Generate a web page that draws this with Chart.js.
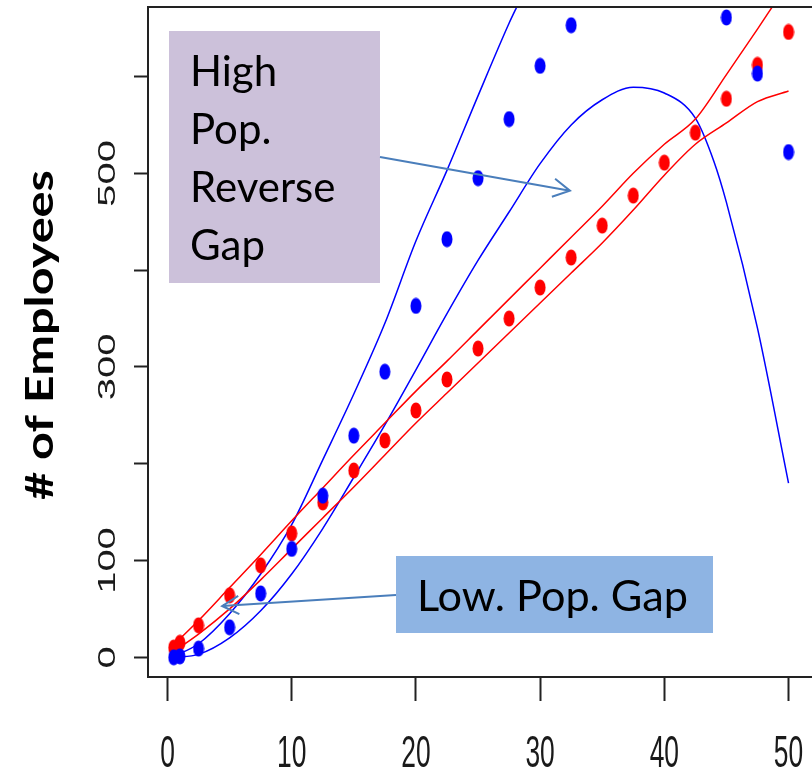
<!DOCTYPE html>
<html>
<head>
<meta charset="utf-8">
<script src="https://cdn.jsdelivr.net/npm/chart.js@4.4.0/dist/chart.umd.min.js"></script>
<style>
  body { margin: 0; background: #fff; }
</style>
</head>
<body>
<canvas id="emp" width="812" height="771"></canvas>
<script>
// observed counts (red = low pop., blue = high pop.)
var redX = [0.5, 1, 2.5, 5, 7.5, 10, 12.5, 15, 17.5, 20, 22.5, 25, 27.5, 30, 32.5, 35, 37.5, 40, 42.5, 45, 47.5, 50];
var redY = [10, 15, 33, 64, 95, 128, 160, 193, 224, 255, 287, 319, 350, 382, 413, 446, 477, 511, 542, 577, 612, 646];
var blueX = [0.5, 1, 2.5, 5, 7.5, 10, 12.5, 15, 17.5, 20, 22.5, 25, 27.5, 30, 32.5, 45, 47.5, 50];
var blueY = [0, 1, 9, 31, 66, 112, 167, 229, 295, 363, 432, 495, 556, 611, 653, 661, 603, 522];

// fitted band edges
var redHiX = [0.5, 2.5, 5, 7.5, 10, 12.5, 15, 17.5, 20, 22.5, 25, 27.5, 30, 32.5, 35, 37.5, 40, 42.5, 45, 47.5, 48.8];
var redHiY = [13, 38, 72, 106, 141, 175, 209, 242, 275, 306, 338, 370, 402, 434, 466, 500, 530, 556, 602, 649, 674];
var redLoX = [0.5, 2.5, 5, 7.5, 10, 12.5, 15, 17.5, 20, 22.5, 25, 27.5, 30, 32.5, 35, 37.5, 40, 42.5, 45, 47.5, 50];
var redLoY = [6, 24, 50, 80, 112, 144, 176, 209, 242, 273, 304, 335, 366, 397, 428, 462, 498, 530, 552, 574, 585];
var blueHiX = [0.5, 2.5, 5, 7.5, 10, 12.5, 15, 17.5, 20, 22.5, 25, 27.5, 28.2];
var blueHiY = [1, 14, 45, 86, 137, 204, 272, 345, 430, 503, 580, 655, 674];
var blueLoX = [0.5, 2.5, 5, 7.5, 10, 12.5, 15, 17.5, 20, 22.5, 25, 27.5, 30, 32.5, 35, 37.5, 40, 42.5, 44, 45, 47.5, 50];
var blueLoY = [0, 3, 20, 48, 86, 133, 186, 240, 297, 355, 410, 460, 510, 550, 576, 589, 583, 557, 512, 470, 340, 180];

var xTicks = [0, 10, 20, 30, 40, 50];
var yTicks = [0, 100, 200, 300, 400, 500, 600];
var yTickLabels = ['0', '100', '', '300', '', '500', ''];
var yTitle = '# of Employees';

function pairs(xs, ys) {
  return xs.map(function (x, i) { return { x: x, y: ys[i] }; });
}

// R-style filled dot, stretched tall
function dot(color) {
  var c = document.createElement('canvas');
  c.width = 12; c.height = 17;
  var g = c.getContext('2d');
  g.fillStyle = color;
  g.beginPath();
  g.ellipse(6, 8.5, 5.5, 8, 0, 0, Math.PI * 2);
  g.fill();
  return c;
}

function arrow(ctx, x0, y0, x1, y1) {
  var ang = Math.atan2(y1 - y0, x1 - x0), L = 19, w = 0.5;
  ctx.beginPath();
  ctx.moveTo(x0, y0);
  ctx.lineTo(x1, y1);
  ctx.moveTo(x1 - L * Math.cos(ang - w), y1 - L * Math.sin(ang - w));
  ctx.lineTo(x1, y1);
  ctx.lineTo(x1 - L * Math.cos(ang + w), y1 - L * Math.sin(ang + w));
  ctx.stroke();
}

// squeeze/stretch text to an exact width, left-aligned at x
function fitText(ctx, txt, x, y, width) {
  var w = ctx.measureText(txt).width;
  ctx.save();
  ctx.textAlign = 'left';
  ctx.translate(x, y);
  ctx.scale(width / w, 1);
  ctx.fillText(txt, 0, 0);
  ctx.restore();
}

var decor = {
  id: 'decor',
  afterDraw: function (chart) {
    var ctx = chart.ctx, a = chart.chartArea;
    var xs = chart.scales.x, ys = chart.scales.y;
    ctx.save();

    // box around the plot
    ctx.strokeStyle = '#222';
    ctx.lineWidth = 2;
    ctx.beginPath();
    ctx.moveTo(a.right, a.top);
    ctx.lineTo(a.left, a.top);
    ctx.lineTo(a.left, a.bottom);
    ctx.lineTo(a.right, a.bottom);
    ctx.stroke();

    // tick labels, narrow like the R device output
    ctx.fillStyle = '#1a1a1a';
    ctx.textAlign = 'center';
    ctx.textBaseline = 'alphabetic';
    ctx.font = '44px "Liberation Sans", Arial, sans-serif';
    xTicks.forEach(function (v) {
      ctx.save();
      ctx.translate(xs.getPixelForValue(v), 767);
      ctx.scale(0.6, 1);
      ctx.fillText(String(v), 0, 0);
      ctx.restore();
    });
    ctx.font = '40px "Liberation Sans", Arial, sans-serif';
    yTicks.forEach(function (v, i) {
      if (!yTickLabels[i]) return;
      ctx.save();
      ctx.translate(115, ys.getPixelForValue(v));
      ctx.scale(0.6, 1);
      ctx.rotate(-Math.PI / 2);
      ctx.fillText(yTickLabels[i], 0, 0);
      ctx.restore();
    });

    // axis title
    ctx.fillStyle = '#000';
    ctx.font = 'bold 39px Lato, "Open Sans", sans-serif';
    ctx.save();
    ctx.translate(53, 335);
    ctx.rotate(-Math.PI / 2);
    fitText(ctx, yTitle, -165, 0, 330);
    ctx.restore();

    // callouts
    ctx.fillStyle = '#CCC1DA';
    ctx.fillRect(169, 31, 211, 252);
    ctx.fillStyle = '#8EB4E3';
    ctx.fillRect(396, 556, 317, 77);

    ctx.fillStyle = '#000';
    ctx.textAlign = 'left';
    ctx.font = '42px Lato, "Open Sans", sans-serif';
    ['High', 'Pop.', 'Reverse', 'Gap'].forEach(function (s, i) {
      ctx.fillText(s, 190, 86 + i * 58);
    });
    fitText(ctx, 'Low. Pop. Gap', 417, 611, 271);

    ctx.strokeStyle = '#4A7EBB';
    ctx.lineWidth = 2;
    arrow(ctx, 380, 157, xs.getPixelForValue(32.4), ys.getPixelForValue(482));
    arrow(ctx, 396, 595, xs.getPixelForValue(4.4), ys.getPixelForValue(53));

    ctx.restore();
  }
};

function curve(xs, ys, color) {
  return {
    data: pairs(xs, ys),
    showLine: true,
    borderColor: color,
    borderWidth: 1.5,
    pointRadius: 0,
    cubicInterpolationMode: 'monotone',
    clip: 0,
    order: 3
  };
}

new Chart(document.getElementById('emp'), {
  type: 'scatter',
  data: {
    datasets: [
      { data: pairs(blueX, blueY), pointStyle: dot('#0000FF'), pointRadius: 6, showLine: false, clip: 0, order: 0 },
      { data: pairs(redX, redY), pointStyle: dot('#FF0000'), pointRadius: 6, showLine: false, clip: 0, order: 1 },
      curve(redHiX, redHiY, '#FF0000'),
      curve(redLoX, redLoY, '#FF0000'),
      curve(blueHiX, blueHiY, '#0000FF'),
      curve(blueLoX, blueLoY, '#0000FF')
    ]
  },
  options: {
    responsive: false,
    animation: false,
    devicePixelRatio: 1,
    layout: { autoPadding: false, padding: { left: 134, top: 7, right: 0, bottom: 70 } },
    plugins: { legend: { display: false }, tooltip: { enabled: false } },
    scales: {
      x: {
        type: 'linear', min: -1.57, max: 51.89,
        afterBuildTicks: function (s) { s.ticks = xTicks.map(function (v) { return { value: v }; }); },
        afterFit: function (s) { s.height = 24; },
        ticks: { display: false },
        grid: { drawOnChartArea: false, drawTicks: true, tickLength: 24, tickWidth: 2, tickColor: '#222' },
        border: { display: false }
      },
      y: {
        type: 'linear', min: -20.35, max: 671.8,
        afterBuildTicks: function (s) { s.ticks = yTicks.map(function (v) { return { value: v }; }); },
        afterFit: function (s) { s.width = 14; },
        ticks: { display: false },
        grid: { drawOnChartArea: false, drawTicks: true, tickLength: 14, tickWidth: 2, tickColor: '#222' },
        border: { display: false }
      }
    }
  },
  plugins: [decor]
});
</script>
</body>
</html>
